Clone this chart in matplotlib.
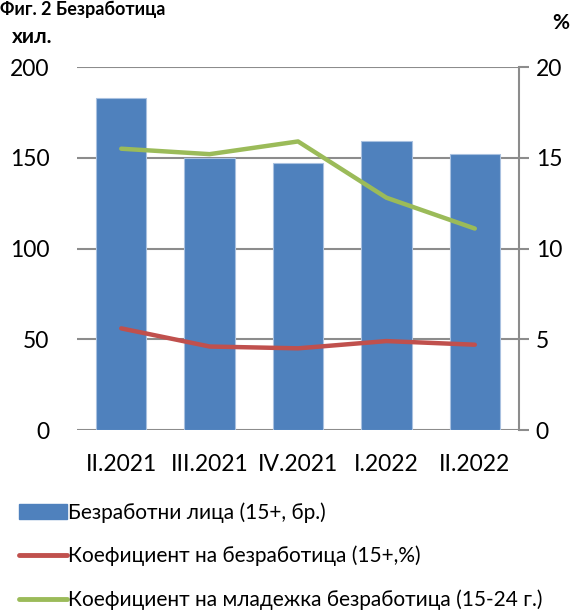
import matplotlib.pyplot as plt
import numpy as np
from matplotlib.patches import Patch
from matplotlib.lines import Line2D

plt.rcParams['font.family'] = ['Lato', 'DejaVu Sans']

quarters = ['II.2021', 'III.2021', 'IV.2021', 'I.2022', 'II.2022']
unemployed = [183, 150, 147, 159, 152]          # хил.
rate = [5.6, 4.6, 4.5, 4.9, 4.7]                # %
youth_rate = [15.5, 15.2, 15.9, 12.8, 11.1]     # %

blue = '#4f81bd'
red = '#c0504d'
green = '#9bbb59'
grid_col = '#8c8c8c'

fig = plt.figure(figsize=(5.75, 6.15), dpi=100)
ax = fig.add_axes([0.134, 0.3008, 0.7686, 0.5902])
x = np.arange(len(quarters))

ax.bar(x, unemployed, width=0.57, color=blue, edgecolor='#a9c1e0', linewidth=0.8, zorder=3)
ax.set_ylim(0, 200)
ax.set_xlim(-0.5, len(quarters) - 0.5)
ax.set_yticks([0, 50, 100, 150, 200])
ax.yaxis.grid(True, color=grid_col, linewidth=1.5, zorder=0)
ax.set_axisbelow(True)
for s in ['top', 'left', 'right', 'bottom']:
    ax.spines[s].set_visible(False)
ax.tick_params(axis='y', length=0, labelsize=16.5, pad=20)
ax.tick_params(axis='x', length=0, labelsize=16.5, pad=17)
ax.set_xticks(x)
ax.set_xticklabels(quarters)

ax2 = ax.twinx()
ax2.set_ylim(0, 20)
ax2.set_yticks([0, 5, 10, 15, 20])
for s in ['top', 'left', 'bottom']:
    ax2.spines[s].set_visible(False)
ax2.spines['right'].set_color(grid_col)
ax2.spines['right'].set_linewidth(1.5)
ax2.tick_params(axis='y', length=7, width=1.5, color=grid_col, labelsize=16.5, pad=5)
ax2.plot(x, rate, color=red, linewidth=3.2, solid_capstyle='round', zorder=4)
ax2.plot(x, youth_rate, color=green, linewidth=3.2, solid_capstyle='round', zorder=4)

fig.text(0.0, 0.999, 'Фиг. 2 Безработица', fontsize=13, fontweight='bold', va='top', ha='left')
fig.text(0.02, 0.94, 'хил.', fontsize=15, fontweight='bold', va='center', ha='left')
fig.text(0.99, 0.962, '%', fontsize=15, fontweight='bold', va='center', ha='right')

handles = [
    Patch(facecolor=blue, edgecolor=blue),
    Line2D([0], [0], color=red, linewidth=3.5, solid_capstyle='round'),
    Line2D([0], [0], color=green, linewidth=3.5, solid_capstyle='round'),
]
labels = ['Безработни лица (15+, бр.)',
          'Коефициент на безработица (15+,%)',
          'Коефициент на младежка безработица (15-24 г.)']
fig.legend(handles, labels, loc='lower left', bbox_to_anchor=(0.018, -0.006),
           frameon=False, fontsize=15, handlelength=2.3, handleheight=0.7,
           handletextpad=0.05, labelspacing=1.12, borderaxespad=0)

fig.savefig('out.png', dpi=100)
